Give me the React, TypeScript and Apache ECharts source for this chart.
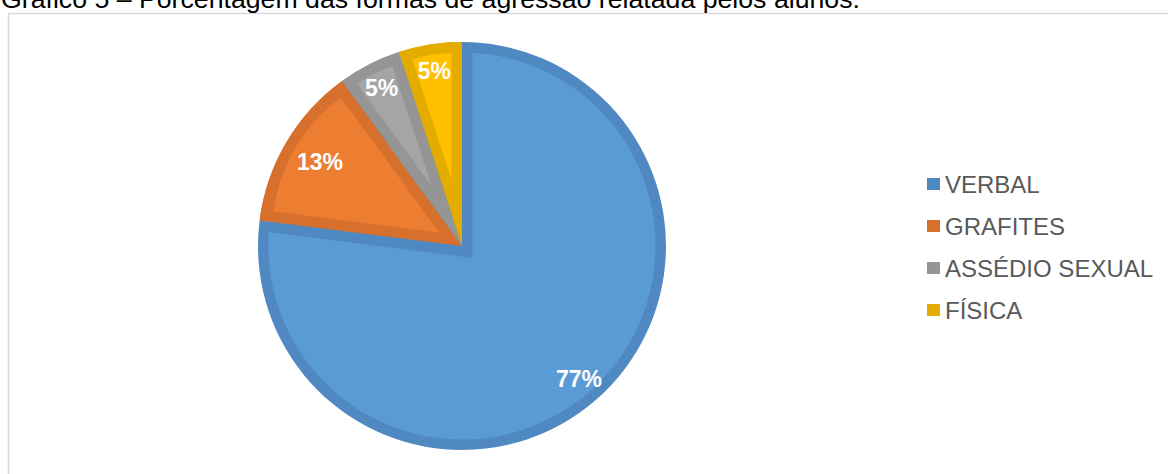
import React, { useEffect, useRef } from "react";
import * as echarts from "echarts";

// ---- data ----
const categories = ["VERBAL", "GRAFITES", "ASSÉDIO SEXUAL", "FÍSICA"];
const values = [77, 13, 5, 5];
const lightColors = ["#5b9bd5", "#ed7d31", "#a5a5a5", "#ffc000"];
const darkColors = ["#5089c1", "#d6702c", "#959595", "#e5ac00"];
const titleText = "Gráfico 5 – Porcentagem das formas de agressão relatada pelos alunos.";

const FONT = "'Liberation Sans', Arial, Helvetica, sans-serif";
const CX = 462;
const CY = 246;
const R = 204;
const BAND = 10.5;
const TRANSPARENT = "rgba(0,0,0,0)";

function buildOption() {
  const total = values.reduce((a, b) => a + b, 0);
  const angleOf = (v: number) => (2 * Math.PI * v) / total;

  const base: any = {
    type: "pie",
    center: [CX, CY],
    startAngle: 90,
    clockwise: true,
    silent: true,
    avoidLabelOverlap: false,
    label: { show: false },
    labelLine: { show: false },
    emphasis: { disabled: true },
  };

  const item = (i: number, color: string, extra: any = {}) => ({
    name: categories[i],
    value: values[i],
    itemStyle: { color, borderWidth: 0 },
    select: { itemStyle: { color, borderWidth: 0 } },
    ...extra,
  });

  const series: any[] = [];

  // 1. dark base pie (outer borders)
  series.push({
    ...base,
    radius: [0, R],
    data: categories.map((_, i) => item(i, darkColors[i])),
  });

  // 2. light fill of the big slice (full disc, inset by band)
  series.push({
    ...base,
    radius: [0, R - BAND],
    data: categories.map((_, i) => item(i, lightColors[0])),
  });

  // 3. dark band of big slice along the small slices' boundaries
  const rest = total - values[0];
  const restAngle = angleOf(rest);
  const s3 = BAND / Math.sin(restAngle / 2);
  const r3 = R - BAND + s3 * Math.cos(restAngle / 2) + 1;
  series.push({
    ...base,
    radius: [0, r3],
    selectedMode: "single",
    selectedOffset: -s3,
    data: [
      item(0, TRANSPARENT),
      {
        name: "rest",
        value: rest,
        selected: true,
        itemStyle: { color: darkColors[0], borderWidth: 0 },
        select: { itemStyle: { color: darkColors[0], borderWidth: 0 } },
      },
    ],
  });

  // 4. dark small slices again
  series.push({
    ...base,
    radius: [0, R],
    data: categories.map((_, i) => item(i, i === 0 ? TRANSPARENT : darkColors[i])),
  });

  // 5. light insets of small slices
  for (let i = 1; i < categories.length; i++) {
    const a = angleOf(values[i]);
    const s = BAND / Math.sin(a / 2);
    series.push({
      ...base,
      radius: [0, R - BAND - s],
      selectedMode: "single",
      selectedOffset: s,
      data: categories.map((_, j) =>
        j === i ? item(j, lightColors[j], { selected: true }) : item(j, TRANSPARENT)
      ),
    });
  }

  // 6. labels
  const labelStyle = {
    show: true,
    position: "inside",
    formatter: "{c}%",
    color: "#ffffff",
    fontFamily: FONT,
    fontSize: 23,
    fontWeight: "bold",
  };
  const labelSeries = (radius: number[], which: number[]) => ({
    ...base,
    radius,
    z: 10,
    data: categories.map((_, j) =>
      item(j, TRANSPARENT, {
        label: which.includes(j) ? labelStyle : { show: false },
      })
    ),
  });
  series.push(labelSeries([144, R], [0, 2, 3]));
  series.push(labelSeries([120, R], [1]));

  return {
    animation: false,
    backgroundColor: "#ffffff",
    legend: {
      orient: "vertical",
      left: 927,
      top: 172,
      padding: 0,
      icon: "rect",
      itemWidth: 13,
      itemHeight: 12,
      itemGap: 18,
      selectedMode: false,
      data: categories,
      textStyle: {
        fontFamily: FONT,
        fontSize: 24,
        lineHeight: 24,
        color: "#595959",
      },
    },
    graphic: [
      {
        type: "rect",
        z: -1,
        shape: { x: 8.5, y: 13.5, width: 1300, height: 600 },
        style: { fill: "#ffffff", stroke: "#d9d9d9", lineWidth: 1.5 },
        silent: true,
      },
      {
        type: "text",
        x: 1,
        y: -1.5,
        silent: true,
        style: {
          text: titleText,
          font: `26.7px ${FONT}`,
          fill: "#000000",
          verticalAlign: "middle",
          align: "left",
        },
      },
    ],
    series,
  };
}

export default function App() {
  const ref = useRef<HTMLDivElement>(null);
  useEffect(() => {
    if (!ref.current) return;
    const chart = echarts.init(ref.current, undefined, { renderer: "svg" });
    chart.setOption(buildOption() as any);
    return () => chart.dispose();
  }, []);
  return (
    <div
      ref={ref}
      style={{ position: "absolute", left: 0, top: 0, width: 1168, height: 474 }}
    />
  );
}
